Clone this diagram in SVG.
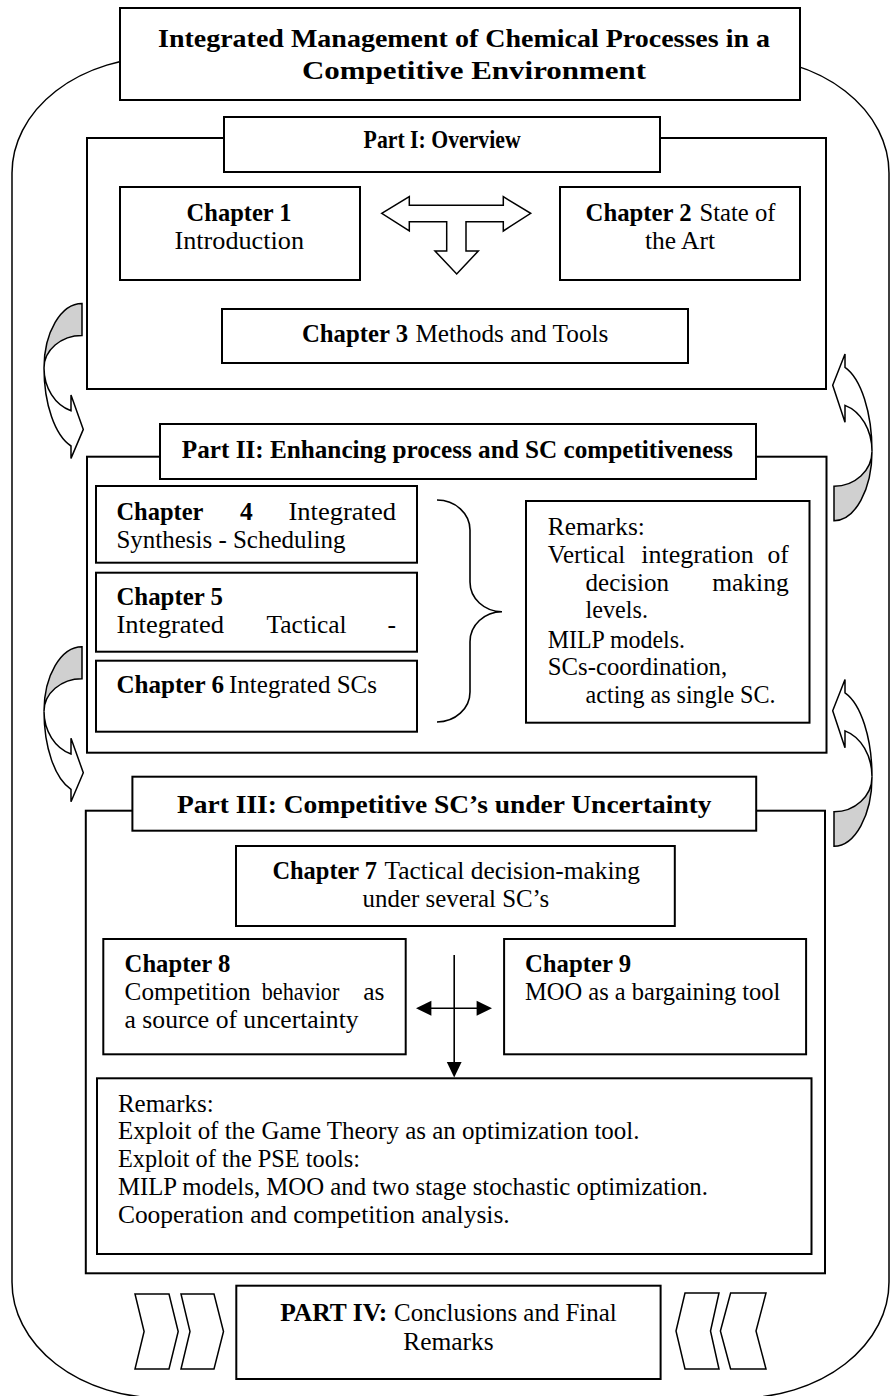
<svg xmlns="http://www.w3.org/2000/svg" width="893" height="1396" viewBox="0 0 893 1396">
  <style>
    .t { font-family: "Liberation Serif", "Times New Roman", serif; font-size: 25.5px; fill: #000; }
    .b { font-weight: bold; }
    .box { fill: #fff; stroke: #000; stroke-width: 2; }
    .frame { fill: #fff; stroke: #000; stroke-width: 1.5; }
    .shape { fill: #fff; stroke: #000; stroke-width: 1.5; stroke-linejoin: miter; }
    .back { fill: #d0d0d0; stroke: #000; stroke-width: 1.5; }
    .line { fill: none; stroke: #000; stroke-width: 1.6; }
    .head { fill: #000; stroke: none; }
  </style>
  <defs>
    <!-- curved band arrow, origin at the top of the band end, head pointing right -->
    <g id="curved-arrow">
      <path class="back" vector-effect="non-scaling-stroke" d="M0,0 A38,64.6 0 0 0 -38,64.6 A38,32.6 0 0 1 0,32 Z"/>
      <path class="shape" vector-effect="non-scaling-stroke" d="M-38,64.6 A38,44.6 0 0 0 -11,107.3 L-11,91.6 L1.3,126 L-11,155 L-11,142.6 A38,81.5 0 0 1 -38,64.6 Z"/>
    </g>
  </defs>

  <!-- outer rounded frame -->
  <g id="frame">
    <rect class="frame" x="12" y="57" width="877" height="1341" rx="150" ry="116"/>
  </g>

  <!-- title -->
  <g id="title">
    <rect class="box" x="120" y="8" width="680" height="92"/>
    <text class="t b" x="158" y="47" font-size="28" textLength="612" lengthAdjust="spacingAndGlyphs">Integrated Management of Chemical Processes in a</text>
    <text class="t b" x="302" y="79" font-size="28" textLength="344" lengthAdjust="spacingAndGlyphs">Competitive Environment</text>
  </g>

  <!-- Part I -->
  <g id="part1">
    <rect class="box" x="87" y="138" width="739" height="251"/>
    <rect class="box" x="224" y="117" width="436" height="55"/>
    <text class="t b" x="363.6" y="148" font-size="21" textLength="157" lengthAdjust="spacingAndGlyphs">Part I: Overview</text>
  </g>
  <g id="ch1">
    <rect class="box" x="120" y="187" width="240" height="93"/>
    <text class="t b" x="186.6" y="221" textLength="105" lengthAdjust="spacingAndGlyphs">Chapter 1</text>
    <text class="t" x="174.5" y="249" textLength="129.5" lengthAdjust="spacingAndGlyphs">Introduction</text>
  </g>
  <g id="ch2">
    <rect class="box" x="560" y="187" width="240" height="93"/>
    <text class="t b" x="585.6" y="221" textLength="106" lengthAdjust="spacingAndGlyphs">Chapter 2</text>
    <text class="t" x="699.5" y="221" textLength="76" lengthAdjust="spacingAndGlyphs">State of</text>
    <text class="t" x="645" y="249" textLength="70" lengthAdjust="spacingAndGlyphs">the Art</text>
  </g>
  <g id="ch3">
    <rect class="box" x="222" y="309" width="466" height="54"/>
    <text class="t b" x="302" y="341.7" textLength="106" lengthAdjust="spacingAndGlyphs">Chapter 3</text>
    <text class="t" x="415.4" y="341.7" textLength="193" lengthAdjust="spacingAndGlyphs">Methods and Tools</text>
  </g>

  <!-- Part II -->
  <g id="part2">
    <rect class="box" x="87" y="456.7" width="739.5" height="296"/>
    <rect class="box" x="160" y="424" width="596" height="55"/>
    <text class="t b" x="181.8" y="457.7" font-size="25" textLength="551" lengthAdjust="spacingAndGlyphs">Part II: Enhancing process and SC competitiveness</text>
  </g>
  <g id="ch4">
    <rect class="box" x="96" y="486" width="321" height="76.7"/>
    <text class="t b" x="116.4" y="520" textLength="87" lengthAdjust="spacingAndGlyphs">Chapter</text>
    <text class="t b" x="240" y="520">4</text>
    <text class="t" x="396" y="520" textLength="107.6" lengthAdjust="spacingAndGlyphs" text-anchor="end">Integrated</text>
    <text class="t" x="116.4" y="547.7" textLength="229" lengthAdjust="spacingAndGlyphs">Synthesis - Scheduling</text>
  </g>
  <g id="ch5">
    <rect class="box" x="96" y="572.7" width="321" height="79"/>
    <text class="t b" x="116.4" y="605" textLength="106.6" lengthAdjust="spacingAndGlyphs">Chapter 5</text>
    <text class="t" x="116.4" y="633.3" textLength="107.6" lengthAdjust="spacingAndGlyphs">Integrated</text>
    <text class="t" x="266.6" y="633.3" textLength="80" lengthAdjust="spacingAndGlyphs">Tactical</text>
    <text class="t" x="396" y="633.3" text-anchor="end">-</text>
  </g>
  <g id="ch6">
    <rect class="box" x="96" y="660.7" width="321" height="71"/>
    <text class="t b" x="116.4" y="693" textLength="107.6" lengthAdjust="spacingAndGlyphs">Chapter 6</text>
    <text class="t" x="229" y="693" textLength="148" lengthAdjust="spacingAndGlyphs">Integrated SCs</text>
  </g>
  <g id="remarks2">
    <rect class="box" x="526" y="501" width="283.5" height="221.7"/>
    <text class="t" x="547.8" y="535" textLength="97" lengthAdjust="spacingAndGlyphs">Remarks:</text>
    <text class="t" x="547.8" y="562.7" textLength="77.5" lengthAdjust="spacingAndGlyphs">Vertical</text>
    <text class="t" x="641.3" y="562.7" textLength="112.5" lengthAdjust="spacingAndGlyphs">integration</text>
    <text class="t" x="788.7" y="562.7" text-anchor="end">of</text>
    <text class="t" x="585.6" y="590.7" textLength="83.4" lengthAdjust="spacingAndGlyphs">decision</text>
    <text class="t" x="788.7" y="590.7" text-anchor="end">making</text>
    <text class="t" x="585.6" y="618.3" textLength="62.4" lengthAdjust="spacingAndGlyphs">levels.</text>
    <text class="t" x="547.8" y="647.7" textLength="137.2" lengthAdjust="spacingAndGlyphs">MILP models.</text>
    <text class="t" x="547.8" y="675" textLength="179.3" lengthAdjust="spacingAndGlyphs">SCs-coordination,</text>
    <text class="t" x="585.6" y="703.3" textLength="190" lengthAdjust="spacingAndGlyphs">acting as single SC.</text>
  </g>

  <!-- Part III -->
  <g id="part3">
    <rect class="box" x="85.8" y="810.7" width="739.2" height="462.6"/>
    <rect class="box" x="132.4" y="776.7" width="623.8" height="54"/>
    <text class="t b" x="177" y="812.7" font-size="29" textLength="534.6" lengthAdjust="spacingAndGlyphs">Part III: Competitive SC’s under Uncertainty</text>
  </g>
  <g id="ch7">
    <rect class="box" x="236" y="846" width="438.8" height="80"/>
    <text class="t b" x="272.4" y="879.3" textLength="104.7" lengthAdjust="spacingAndGlyphs">Chapter 7</text>
    <text class="t" x="384.4" y="879.3" textLength="255.6" lengthAdjust="spacingAndGlyphs">Tactical decision-making</text>
    <text class="t" x="362.6" y="906.7" textLength="186.6" lengthAdjust="spacingAndGlyphs">under several SC’s</text>
  </g>
  <g id="ch8">
    <rect class="box" x="103.3" y="939" width="302.4" height="115.3"/>
    <text class="t b" x="124.6" y="971.7" textLength="105.7" lengthAdjust="spacingAndGlyphs">Chapter 8</text>
    <text class="t" x="124.6" y="1000" textLength="126" lengthAdjust="spacingAndGlyphs">Competition</text>
    <text class="t" x="261.8" y="1000" textLength="77.5" lengthAdjust="spacingAndGlyphs">behavior</text>
    <text class="t" x="384.4" y="1000" text-anchor="end">as</text>
    <text class="t" x="124.6" y="1028.3" textLength="234" lengthAdjust="spacingAndGlyphs">a source of uncertainty</text>
  </g>
  <g id="ch9">
    <rect class="box" x="504.1" y="939" width="302" height="115.3"/>
    <text class="t b" x="525" y="971.7" textLength="106" lengthAdjust="spacingAndGlyphs">Chapter 9</text>
    <text class="t" x="525" y="1000" textLength="255.4" lengthAdjust="spacingAndGlyphs">MOO as a bargaining tool</text>
  </g>
  <g id="remarks3">
    <rect class="box" x="97" y="1078.3" width="714.5" height="175.7"/>
    <text class="t" x="117.9" y="1111.7" textLength="95.7" lengthAdjust="spacingAndGlyphs">Remarks:</text>
    <text class="t" x="117.9" y="1139.3" textLength="521.6" lengthAdjust="spacingAndGlyphs">Exploit of the Game Theory as an optimization tool.</text>
    <text class="t" x="117.9" y="1167.3" textLength="242" lengthAdjust="spacingAndGlyphs">Exploit of the PSE tools:</text>
    <text class="t" x="117.9" y="1195" textLength="590" lengthAdjust="spacingAndGlyphs">MILP models, MOO and two stage stochastic optimization.</text>
    <text class="t" x="117.9" y="1223.3" textLength="391.8" lengthAdjust="spacingAndGlyphs">Cooperation and competition analysis.</text>
  </g>

  <!-- Part IV -->
  <g id="part4">
    <rect class="box" x="236.3" y="1285.7" width="424.3" height="93.3"/>
    <text class="t b" x="280.2" y="1320.7" textLength="107" lengthAdjust="spacingAndGlyphs">PART IV:</text>
    <text class="t" x="394.1" y="1320.7" textLength="222.6" lengthAdjust="spacingAndGlyphs">Conclusions and Final</text>
    <text class="t" x="403.2" y="1350" textLength="90.5" lengthAdjust="spacingAndGlyphs">Remarks</text>
  </g>

  <!-- connectors -->
  <g id="connectors">
    <!-- Part I: block arrow left / right / down -->
    <polygon class="shape" points="381.7,213.3 409.3,196.7 409.3,205.3 503.3,205.3 503.3,196.7 530.7,213.3 503.3,231 503.3,221.7 466,221.7 466,251 478.3,251 456.7,274 435,251 446.7,251 446.7,221.7 409.3,221.7 409.3,231"/>

    <!-- Part II: brace -->
    <path class="line" d="M437,500 A33,30 0 0 1 470,530 L470,582 A32,29.7 0 0 0 502,611.7 A32,30 0 0 0 470,641.7 L470,692 A33,30 0 0 1 437,722"/>

    <!-- Part III: cross arrows -->
    <line class="line" x1="454.2" y1="955" x2="454.2" y2="1063"/>
    <polygon class="head" points="446.8,1062 461.6,1062 454.2,1077.5"/>
    <line class="line" x1="430" y1="1008.3" x2="478" y2="1008.3"/>
    <polygon class="head" points="416,1008.3 431.4,1000.8 431.4,1015.8"/>
    <polygon class="head" points="492,1008.3 476.6,1000.8 476.6,1015.8"/>

    <!-- curved arrows between parts -->
    <use href="#curved-arrow" transform="translate(82,303.4)"/>
    <use href="#curved-arrow" transform="translate(82,646.7)"/>
    <use href="#curved-arrow" transform="translate(834,520.7) scale(-1,-1.075)"/>
    <use href="#curved-arrow" transform="translate(834,846.2) scale(-1,-1.075)"/>

    <!-- chevrons beside Part IV -->
    <polygon class="shape" points="135,1294 169,1294 178.2,1331.5 169,1369 135,1369 144.1,1331.5"/>
    <polygon class="shape" points="181,1294 214,1294 223.5,1331.5 214,1369 181,1369 190,1331.5"/>
    <polygon class="shape" points="685,1293 719,1293 710.5,1331 719,1369 685,1369 676,1331"/>
    <polygon class="shape" points="730.6,1293 766,1293 756,1331 766,1369 730.6,1369 720.4,1331"/>
  </g>
</svg>
